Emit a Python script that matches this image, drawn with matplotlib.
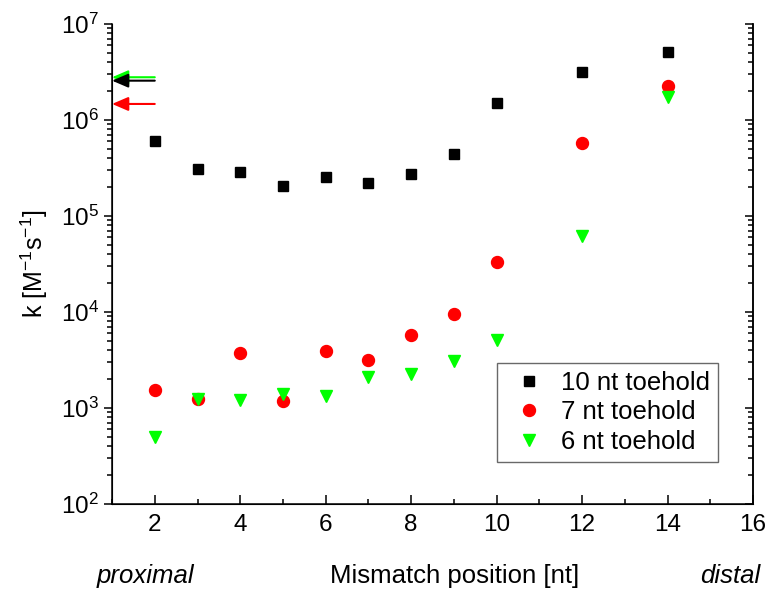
import matplotlib
matplotlib.use("Agg")
import matplotlib.pyplot as plt
from matplotlib.ticker import LogLocator, MultipleLocator, NullFormatter

plt.rcParams['font.family'] = ['Liberation Sans', 'DejaVu Sans']
plt.rcParams['mathtext.default'] = 'regular'

# mismatch positions
pos = [2, 3, 4, 5, 6, 7, 8, 9, 10, 12, 14]

# rate constants k [M^-1 s^-1]
k_10nt = [6.1e5, 3.1e5, 2.9e5, 2.07e5, 2.57e5, 2.21e5, 2.72e5, 4.4e5, 1.5e6, 3.14e6, 5.15e6]
k_7nt = [1.54e3, 1.24e3, 3.72e3, 1.18e3, 3.93e3, 3.16e3, 5.75e3, 9.6e3, 3.3e4, 5.7e5, 2.26e6]
k_6nt = [502, 1.24e3, 1.21e3, 1.41e3, 1.33e3, 2.12e3, 2.26e3, 3.11e3, 5.1e3, 6.15e4, 1.72e6]

# perfect-match reference rates (arrows on the axis)
ref_10nt = 2.57e6
ref_7nt = 1.47e6
ref_6nt = 2.79e6

labels = ['10 nt toehold', '7 nt toehold', '6 nt toehold']
colors = ['black', '#ff0000', '#00ff00']

fig = plt.figure(figsize=(7.7, 5.93), dpi=100)
ax = fig.add_axes([0.1455, 0.150, 0.8325, 0.8095])

ax.plot(pos, k_10nt, 's', color=colors[0], ms=7.2, ls='none', label=labels[0])
ax.plot(pos, k_7nt, 'o', color=colors[1], ms=8.6, ls='none', label=labels[1])
ax.plot(pos, k_6nt, 'v', color=colors[2], ms=9.0, ls='none', label=labels[2])

# arrows marking the unmismatched rates
for val, c in [(ref_6nt, colors[2]), (ref_10nt, colors[0]), (ref_7nt, colors[1])]:
    ax.annotate('', xy=(1, val), xytext=(2, val),
                arrowprops=dict(arrowstyle='-|>,head_length=0.7,head_width=0.3', color=c, lw=1.5,
                                mutation_scale=14, shrinkA=0, shrinkB=0))

ax.set_yscale('log')
ax.set_xlim(1, 16)
ax.set_ylim(1e2, 1e7)

ax.xaxis.set_major_locator(MultipleLocator(2))
ax.xaxis.set_minor_locator(MultipleLocator(1))
ax.yaxis.set_major_locator(LogLocator(base=10, numticks=10))
ax.yaxis.set_minor_locator(LogLocator(base=10, subs=range(2, 10), numticks=20))
ax.yaxis.set_minor_formatter(NullFormatter())

ax.spines['top'].set_visible(False)
for s in ['left', 'bottom', 'right']:
    ax.spines[s].set_linewidth(1.1)

ax.tick_params(axis='x', which='both', direction='in', top=False, labelsize=17.5, width=1.1, pad=7)
ax.tick_params(axis='x', which='major', length=6.5)
ax.tick_params(axis='x', which='minor', length=3.5)
ax.tick_params(axis='y', which='both', direction='out', right=False, labelsize=17.5, width=1.1)
ax.tick_params(axis='y', which='major', length=6)
ax.tick_params(axis='y', which='minor', length=3.5)

# right-hand axis with inward ticks
ax2 = ax.twinx()
ax2.set_yscale('log')
ax2.set_ylim(ax.get_ylim())
ax2.yaxis.set_major_locator(LogLocator(base=10, numticks=10))
ax2.yaxis.set_minor_locator(LogLocator(base=10, subs=range(2, 10), numticks=20))
ax2.tick_params(axis='y', which='both', direction='in', labelright=False, width=1.1)
ax2.tick_params(axis='y', which='major', length=6)
ax2.tick_params(axis='y', which='minor', length=3.5)
ax2.spines['top'].set_visible(False)
ax2.spines['right'].set_linewidth(1.1)

ax.set_ylabel('k [M$^{-1}$s$^{-1}$]', fontsize=18, labelpad=8)

fig.text(0.591, 0.017, 'Mismatch position [nt]', fontsize=18.5, ha='center', va='baseline')
fig.text(0.126, 0.017, 'proximal', fontsize=18.5, style='italic', ha='left', va='baseline')
fig.text(0.988, 0.017, 'distal', fontsize=18.5, style='italic', ha='right', va='baseline')

leg = ax.legend(loc='upper left', bbox_to_anchor=(0.6006, 0.294), fontsize=18.5,
                frameon=True, fancybox=False, edgecolor='#444444',
                handletextpad=0.3, borderpad=0.3, labelspacing=0.22,
                handlelength=1.9, borderaxespad=0)
leg.get_frame().set_linewidth(1.0)

fig.savefig('out.png', dpi=100)
